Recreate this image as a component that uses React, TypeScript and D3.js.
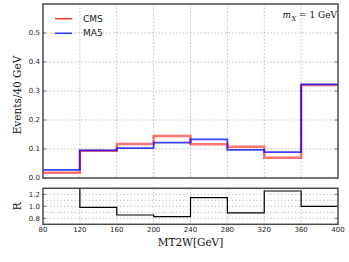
import React from 'react';
import * as d3 from 'd3';

// bin edges of MT2W in GeV
const binEdges = [80, 120, 160, 200, 240, 280, 320, 360, 400];
const cmsValues = [0.018, 0.094, 0.117, 0.145, 0.116, 0.108, 0.070, 0.321];
const ma5Values = [0.028, 0.095, 0.103, 0.122, 0.133, 0.097, 0.089, 0.323];
const ratioValues = [1.67, 0.983, 0.855, 0.827, 1.143, 0.89, 1.255, 1.0];
const xTicks = [80, 120, 160, 200, 240, 280, 320, 360, 400];
const yTicks = [0.0, 0.1, 0.2, 0.3, 0.4, 0.5];
const rTicks = [0.8, 1.0, 1.2];
const rGrid = [0.8, 0.9, 1.0, 1.1, 1.2];

const W = 349;
const H = 262;
const left = 43;
const right = 338;
const topY0 = 4;
const topY1 = 178;
const rY0 = 188.3;
const rY1 = 224.3;

const frameColor = '#4a4a4a';
const tickFont = 'DejaVu Sans, sans-serif';
const labelFont = 'DejaVu Serif, serif';

function stepPath(values: number[], x: d3.ScaleLinear<number, number>, y: d3.ScaleLinear<number, number>) {
  const pts = binEdges.map((e, i) => ({ e, v: values[Math.min(i, values.length - 1)] }));
  return d3.line<{ e: number; v: number }>()
    .x(d => x(d.e))
    .y(d => y(d.v))
    .curve(d3.curveStepAfter)(pts) || '';
}

export default function App() {
  const x = d3.scaleLinear().domain([80, 400]).range([left, right]);
  const y = d3.scaleLinear().domain([0, 0.6]).range([topY1, topY0]);
  const yr = d3.scaleLinear().domain([0.7, 1.3]).range([rY1, rY0]);

  return (
    <svg width={W} height={H} style={{ position: 'absolute', left: 0, top: 0 }}>
      <rect x={0} y={0} width={W} height={H} fill="#fff" />
      <defs>
        <clipPath id="clipTop">
          <rect x={left} y={topY0} width={right - left} height={topY1 - topY0} />
        </clipPath>
        <clipPath id="clipR">
          <rect x={left} y={rY0} width={right - left} height={rY1 - rY0} />
        </clipPath>
      </defs>

      {/* grid, top panel */}
      <g stroke="#b0b0b0" strokeWidth={0.8} strokeDasharray="1.5,2">
        {xTicks.slice(1, -1).map(t => (
          <line key={'gx' + t} x1={x(t)} x2={x(t)} y1={topY0} y2={topY1} />
        ))}
        {yTicks.slice(1).map(t => (
          <line key={'gy' + t} x1={left} x2={right} y1={y(t)} y2={y(t)} />
        ))}
      </g>

      {/* grid, ratio panel */}
      <g stroke="#b0b0b0" strokeWidth={0.8} strokeDasharray="1.5,2">
        {xTicks.slice(1, -1).map(t => (
          <line key={'rx' + t} x1={x(t)} x2={x(t)} y1={rY0} y2={rY1} />
        ))}
        {rGrid.map(t => (
          <line key={'ry' + t} x1={left} x2={right} y1={yr(t)} y2={yr(t)} />
        ))}
      </g>

      {/* histograms */}
      <g clipPath="url(#clipTop)" fill="none">
        <path d={stepPath(cmsValues, x, y)} stroke="#ff0000" strokeOpacity={0.55} strokeWidth={2.5} />
        <path d={stepPath(ma5Values, x, y)} stroke="#0000ff" strokeOpacity={0.75} strokeWidth={1.8} />
      </g>

      <g clipPath="url(#clipR)" fill="none">
        <path d={stepPath(ratioValues, x, yr)} stroke="#000" strokeWidth={1.2} />
      </g>

      {/* frames */}
      <rect x={left} y={topY0} width={right - left} height={topY1 - topY0} fill="none" stroke={frameColor} strokeWidth={1.5} />
      <rect x={left} y={rY0} width={right - left} height={rY1 - rY0} fill="none" stroke={frameColor} strokeWidth={1.5} />

      {/* ticks */}
      <g stroke={frameColor} strokeWidth={0.8}>
        {yTicks.map(t => (
          <g key={'ty' + t}>
            <line x1={left} x2={left + 3} y1={y(t)} y2={y(t)} />
            <line x1={right - 3} x2={right} y1={y(t)} y2={y(t)} />
          </g>
        ))}
        {rTicks.map(t => (
          <g key={'tr' + t}>
            <line x1={left} x2={left + 3} y1={yr(t)} y2={yr(t)} />
            <line x1={right - 3} x2={right} y1={yr(t)} y2={yr(t)} />
          </g>
        ))}
      </g>

      {/* tick labels */}
      <g fontFamily={tickFont} fontSize={7} fill="#222">
        {yTicks.map(t => (
          <text key={'ly' + t} x={left - 3} y={y(t)} dy="0.35em" textAnchor="end">{d3.format('.1f')(t)}</text>
        ))}
        {rTicks.map(t => (
          <text key={'lr' + t} x={left - 3} y={yr(t)} dy="0.35em" textAnchor="end">{d3.format('.1f')(t)}</text>
        ))}
        {xTicks.map(t => (
          <text key={'lx' + t} x={x(t)} y={rY1 + 5.5} dy="0.35em" textAnchor="middle">{t}</text>
        ))}
      </g>

      {/* axis labels */}
      <text x={x(240)} y={246} textAnchor="middle" fontFamily={labelFont} fontSize={10.5} fill="#111">MT2W[GeV]</text>
      <text transform={`translate(21,${(topY0 + topY1) / 2 + 4}) rotate(-90)`} textAnchor="middle" fontFamily={labelFont} fontSize={10.5} fill="#111">Events/40 GeV</text>
      <text transform={`translate(21,${yr(1.0)}) rotate(-90)`} textAnchor="middle" fontFamily={labelFont} fontSize={10.5} fill="#111">R</text>

      {/* legend */}
      <g fontFamily={tickFont} fontSize={9} fill="#222">
        <line x1={55} x2={72} y1={18.7} y2={18.7} stroke="#ff0000" strokeOpacity={0.8} strokeWidth={1.5} />
        <text x={83} y={18.7} dy="0.35em">CMS</text>
        <line x1={55} x2={72} y1={33.3} y2={33.3} stroke="#0000ff" strokeOpacity={0.8} strokeWidth={1.5} />
        <text x={83} y={33.3} dy="0.35em">MA5</text>
      </g>

      {/* annotation */}
      <text x={right - 1} y={18} textAnchor="end" fontFamily={labelFont} fontSize={9} fill="#111">
        <tspan fontStyle="italic">m</tspan>
        <tspan fontStyle="italic" fontSize={7} dy={2.5}>X</tspan>
        <tspan dy={-2.5}> = 1 GeV</tspan>
      </text>
    </svg>
  );
}
